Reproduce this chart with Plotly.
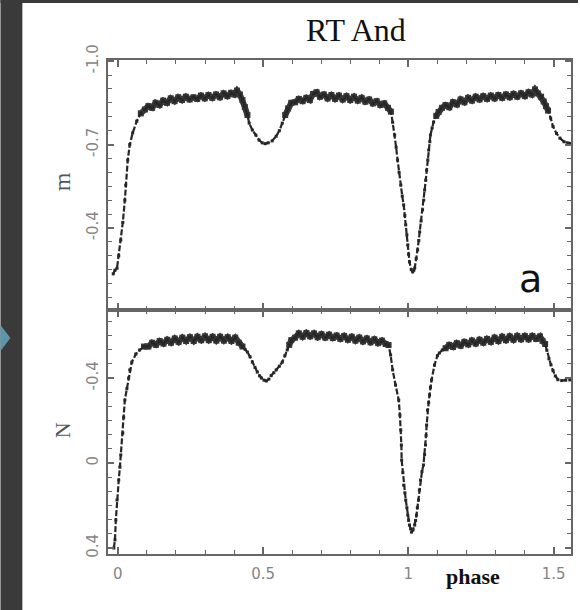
import plotly.graph_objects as go

# RT And light curves: (phase, magnitude) pairs for the two panels
top_curve = [
    (-0.016, -0.235), (-0.010, -0.248), (-0.003, -0.255), (0.003, -0.300),
    (0.010, -0.357), (0.017, -0.420), (0.024, -0.500), (0.027, -0.554),
    (0.034, -0.644), (0.041, -0.700), (0.051, -0.742), (0.065, -0.784),
    (0.079, -0.812), (0.093, -0.826),
    (0.105, -0.838), (0.118, -0.832), (0.130, -0.850), (0.143, -0.842),
    (0.156, -0.858), (0.169, -0.850), (0.182, -0.866), (0.195, -0.856),
    (0.208, -0.870), (0.221, -0.860), (0.234, -0.872), (0.247, -0.862),
    (0.260, -0.870), (0.273, -0.864), (0.286, -0.876), (0.299, -0.866),
    (0.312, -0.878), (0.325, -0.868), (0.338, -0.880), (0.351, -0.870),
    (0.364, -0.884), (0.377, -0.874), (0.390, -0.886), (0.401, -0.880),
    (0.410, -0.894), (0.420, -0.880),
    (0.429, -0.860), (0.437, -0.835), (0.446, -0.806), (0.452, -0.777),
    (0.463, -0.752), (0.475, -0.734), (0.486, -0.716), (0.497, -0.706),
    (0.507, -0.703), (0.517, -0.706), (0.531, -0.713), (0.545, -0.730),
    (0.556, -0.750), (0.566, -0.777), (0.576, -0.806), (0.586, -0.830),
    (0.597, -0.850),
    (0.610, -0.852), (0.623, -0.864), (0.636, -0.856), (0.649, -0.868),
    (0.661, -0.860), (0.672, -0.882), (0.684, -0.888), (0.696, -0.872),
    (0.709, -0.880), (0.722, -0.866), (0.735, -0.878), (0.748, -0.864),
    (0.761, -0.876), (0.774, -0.862), (0.787, -0.874), (0.800, -0.860),
    (0.813, -0.872), (0.826, -0.858), (0.839, -0.868), (0.852, -0.854),
    (0.865, -0.862), (0.878, -0.848), (0.891, -0.856), (0.904, -0.842),
    (0.917, -0.848), (0.930, -0.832), (0.940, -0.818),
    (0.946, -0.780), (0.953, -0.734), (0.958, -0.690), (0.963, -0.644),
    (0.968, -0.600), (0.974, -0.554), (0.979, -0.515), (0.984, -0.483),
    (0.988, -0.445), (0.991, -0.411), (0.995, -0.375), (0.998, -0.339),
    (1.001, -0.305), (1.004, -0.278), (1.010, -0.250), (1.015, -0.242),
    (1.019, -0.248), (1.022, -0.256), (1.027, -0.290), (1.032, -0.321),
    (1.036, -0.355), (1.039, -0.386), (1.044, -0.425), (1.049, -0.465),
    (1.053, -0.500), (1.056, -0.536), (1.060, -0.572), (1.063, -0.608),
    (1.067, -0.645), (1.070, -0.680), (1.074, -0.710), (1.076, -0.734),
    (1.082, -0.760), (1.087, -0.781), (1.096, -0.803), (1.104, -0.817),
    (1.116, -0.832),
    (1.128, -0.842), (1.141, -0.834), (1.154, -0.852), (1.167, -0.844),
    (1.180, -0.862), (1.193, -0.852), (1.206, -0.868), (1.219, -0.858),
    (1.232, -0.872), (1.245, -0.862), (1.258, -0.874), (1.271, -0.864),
    (1.284, -0.876), (1.297, -0.866), (1.310, -0.878), (1.323, -0.868),
    (1.336, -0.880), (1.349, -0.870), (1.362, -0.882), (1.375, -0.872),
    (1.388, -0.884), (1.401, -0.874), (1.414, -0.888), (1.425, -0.880),
    (1.436, -0.898), (1.446, -0.884),
    (1.457, -0.872), (1.466, -0.855), (1.474, -0.838), (1.481, -0.822),
    (1.490, -0.795), (1.498, -0.765), (1.510, -0.740), (1.522, -0.723),
    (1.536, -0.710), (1.550, -0.705), (1.558, -0.704),
]

bottom_curve = [
    (-0.014, 0.400), (-0.010, 0.362), (-0.007, 0.268), (-0.003, 0.174),
    (0.003, 0.080), (0.007, 0.019), (0.010, -0.038), (0.017, -0.141),
    (0.020, -0.215), (0.024, -0.296), (0.031, -0.350), (0.037, -0.400),
    (0.041, -0.438), (0.048, -0.475), (0.062, -0.513), (0.075, -0.532),
    (0.090, -0.548),
    (0.105, -0.548), (0.118, -0.566), (0.131, -0.556), (0.144, -0.574),
    (0.157, -0.562), (0.170, -0.580), (0.183, -0.566), (0.196, -0.586),
    (0.209, -0.570), (0.222, -0.590), (0.235, -0.574), (0.248, -0.592),
    (0.261, -0.574), (0.274, -0.594), (0.287, -0.578), (0.300, -0.596),
    (0.313, -0.578), (0.326, -0.594), (0.339, -0.576), (0.352, -0.594),
    (0.365, -0.576), (0.378, -0.592), (0.391, -0.574), (0.404, -0.590),
    (0.416, -0.566), (0.429, -0.548),
    (0.438, -0.535), (0.446, -0.522), (0.455, -0.500), (0.463, -0.475),
    (0.472, -0.450), (0.480, -0.428), (0.488, -0.410), (0.494, -0.400),
    (0.503, -0.390), (0.511, -0.386), (0.520, -0.395), (0.528, -0.412),
    (0.537, -0.425), (0.545, -0.438), (0.556, -0.456), (0.566, -0.475),
    (0.575, -0.505), (0.583, -0.532), (0.590, -0.556), (0.597, -0.578),
    (0.610, -0.590), (0.623, -0.610), (0.636, -0.594), (0.649, -0.612),
    (0.662, -0.596), (0.675, -0.610), (0.688, -0.592), (0.701, -0.606),
    (0.714, -0.590), (0.727, -0.604), (0.740, -0.588), (0.753, -0.600),
    (0.766, -0.584), (0.779, -0.598), (0.792, -0.580), (0.805, -0.594),
    (0.818, -0.576), (0.831, -0.590), (0.844, -0.572), (0.857, -0.586),
    (0.870, -0.568), (0.883, -0.582), (0.896, -0.564), (0.909, -0.576),
    (0.922, -0.560), (0.932, -0.555),
    (0.939, -0.508), (0.946, -0.438), (0.956, -0.367), (0.967, -0.296),
    (0.971, -0.225), (0.974, -0.155), (0.976, -0.085), (0.977, -0.014),
    (0.981, 0.045), (0.984, 0.104), (0.988, 0.140), (0.991, 0.174),
    (0.995, 0.210), (0.998, 0.245), (1.001, 0.270), (1.004, 0.292),
    (1.008, 0.310), (1.011, 0.325), (1.016, 0.315), (1.022, 0.292),
    (1.025, 0.270), (1.028, 0.245), (1.031, 0.210), (1.035, 0.174),
    (1.038, 0.127), (1.042, 0.080), (1.047, 0.040), (1.052, 0.009),
    (1.056, -0.040), (1.059, -0.085), (1.061, -0.130), (1.063, -0.179),
    (1.066, -0.249), (1.070, -0.285), (1.073, -0.320), (1.076, -0.356),
    (1.080, -0.391), (1.090, -0.461), (1.100, -0.505), (1.107, -0.518),
    (1.117, -0.532),
    (1.128, -0.540), (1.141, -0.556), (1.154, -0.546), (1.167, -0.564),
    (1.180, -0.552), (1.193, -0.570), (1.206, -0.558), (1.219, -0.576),
    (1.232, -0.562), (1.245, -0.580), (1.258, -0.566), (1.271, -0.584),
    (1.284, -0.570), (1.297, -0.590), (1.310, -0.574), (1.323, -0.594),
    (1.336, -0.578), (1.349, -0.596), (1.362, -0.580), (1.375, -0.598),
    (1.388, -0.582), (1.401, -0.598), (1.414, -0.582), (1.427, -0.598),
    (1.440, -0.584), (1.453, -0.596), (1.462, -0.575),
    (1.471, -0.560), (1.477, -0.530), (1.484, -0.490), (1.491, -0.462),
    (1.498, -0.435), (1.506, -0.410), (1.515, -0.392), (1.528, -0.388),
    (1.542, -0.390), (1.556, -0.391),
]

x_tick_vals = [0, 0.5, 1, 1.5]
x_tick_text = ["0", "0.5", "1", "1.5"]
top_tick_vals = [-1.0, -0.7, -0.4]
top_tick_text = ["-1.0", "-0.7", "-0.4"]
bottom_tick_vals = [-0.4, 0, 0.4]
bottom_tick_text = ["-0.4", "0", "0.4"]

INK = "#262626"
AXIS = "#666666"
LABEL = "#858585"

# plot area in pixels (for placing decorations in paper coordinates)
L, R, T, B = 108, 7, 60, 56
W, H = 580, 610
PW, PH = W - L - R, H - T - B


def px(x):
    return (x - L) / PW


def py(y):
    return (H - B - y) / PH


def band(curve, limit):
    """Keep only the bright plateau points, broken where the curve dips."""
    return [m if m < limit else None for _, m in curve]


fig = go.Figure()

for curve, yref, limit in ((top_curve, "y", -0.80), (bottom_curve, "y2", -0.535)):
    ph = [p for p, _ in curve]
    mg = [m for _, m in curve]
    xref = "x2" if yref == "y" else "x"
    # thin broken trace through every point (the steep eclipse branches)
    fig.add_trace(go.Scatter(
        x=ph, y=mg, xaxis=xref, yaxis=yref, mode="lines+markers",
        line=dict(color=INK, width=2.2, dash="6px,2px"),
        marker=dict(symbol="square", size=3, color=INK),
        hoverinfo="skip",
    ))
    # thick scattered band along the out-of-eclipse plateaus
    fig.add_trace(go.Scatter(
        x=ph, y=band(curve, limit), xaxis=xref, yaxis=yref, mode="lines+markers",
        line=dict(color=INK, width=6), opacity=0.92,
        marker=dict(symbol="square", size=6, color=INK),
        connectgaps=False, hoverinfo="skip",
    ))

split = 244 / PH
tick_font = dict(family="DejaVu Sans", size=15, color=LABEL)

x_common = dict(
    range=[-0.034, 1.560], showgrid=False, zeroline=False,
    showline=True, linecolor=AXIS, linewidth=2, mirror="ticks",
    ticks="inside", ticklen=7, tickwidth=1.5, tickcolor=AXIS,
    tickvals=x_tick_vals, ticktext=x_tick_text,
    minor=dict(dtick=0.1, tick0=0, ticks="inside", ticklen=4,
               tickwidth=1.2, tickcolor=AXIS),
    tickfont=tick_font,
)
y_common = dict(
    showgrid=False, zeroline=False, showline=True, linecolor=AXIS,
    linewidth=2, mirror="ticks", ticks="inside", ticklen=6, tickwidth=1.5,
    tickcolor=AXIS, tickangle=-90, tickfont=tick_font, ticklabelstandoff=2,
)

fig.update_layout(
    width=W, height=H,
    margin=dict(l=L, r=R, t=T, b=B),
    paper_bgcolor="white", plot_bgcolor="white",
    showlegend=False,
    xaxis=dict(domain=[0, 1], anchor="y2", ticklabelstandoff=5, **x_common),
    xaxis2=dict(domain=[0, 1], anchor="y", matches="x",
                showticklabels=False, **x_common),
    yaxis=dict(domain=[split, 1], anchor="x2", range=[-0.105, -1.004],
               tickvals=top_tick_vals, ticktext=top_tick_text,
               minor=dict(dtick=0.05, tick0=-1.0, ticks="inside", ticklen=4,
                          tickwidth=1.2, tickcolor=AXIS),
               **y_common),
    yaxis2=dict(domain=[0, split], anchor="x", range=[0.428, -0.720],
                tickvals=bottom_tick_vals, ticktext=bottom_tick_text,
                minor=dict(dtick=0.4 / 6, tick0=0, ticks="inside", ticklen=4,
                           tickwidth=1.2, tickcolor=AXIS),
                **y_common),
)

fig.add_annotation(x=px(357), y=py(30), xref="paper", yref="paper",
                   text="RT And", showarrow=False, xanchor="center", yanchor="middle",
                   font=dict(family="Liberation Serif", size=32, color="#111111"))
fig.add_annotation(x=px(532), y=py(279), xref="paper", yref="paper",
                   text="a", showarrow=False, xanchor="center", yanchor="middle",
                   font=dict(family="DejaVu Sans", size=38, color="#111111"))
fig.add_annotation(x=px(475), y=py(576), xref="paper", yref="paper",
                   text="<b>phase</b>", showarrow=False, xanchor="center", yanchor="middle",
                   font=dict(family="Liberation Serif", size=22, color="#111111"))
fig.add_annotation(x=px(62), y=py(182), xref="paper", yref="paper",
                   text="m", showarrow=False, textangle=-90,
                   xanchor="center", yanchor="middle",
                   font=dict(family="Liberation Serif", size=24, color="#555555"))
fig.add_annotation(x=px(62), y=py(430), xref="paper", yref="paper",
                   text="N", showarrow=False, textangle=-90,
                   xanchor="center", yanchor="middle",
                   font=dict(family="Liberation Serif", size=22, color="#555555"))

# dark page strips and the blue pointer on the left
fig.add_shape(type="rect", xref="paper", yref="paper",
              x0=px(0), x1=px(22), y0=py(610), y1=py(0),
              fillcolor="#3a3a3a", line=dict(width=0))
fig.add_shape(type="rect", xref="paper", yref="paper",
              x0=px(0), x1=px(580), y0=py(3), y1=py(0),
              fillcolor="#3a3a3a", line=dict(width=0))
fig.add_shape(type="path", xref="paper", yref="paper",
              path=f"M {px(0)},{py(325)} L {px(10)},{py(338)} L {px(0)},{py(351)} Z",
              fillcolor="#5d95ab", line=dict(width=0))

fig.write_html("out.html")
